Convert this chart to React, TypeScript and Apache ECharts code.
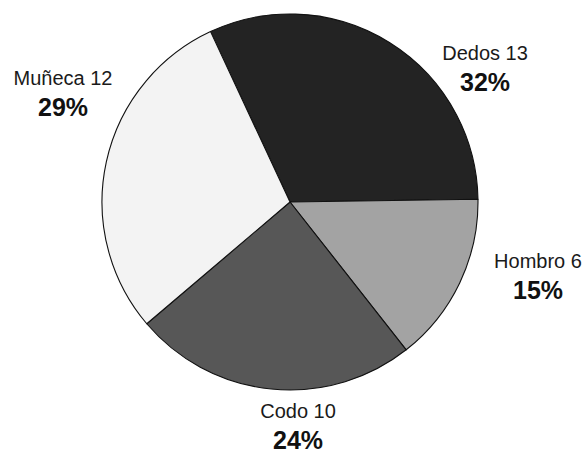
import React, { useEffect, useRef } from "react";
import * as echarts from "echarts";

// Injury locations and their counts
const categories = ["Dedos", "Hombro", "Codo", "Muñeca"];
const counts = [13, 6, 10, 12];
const sliceColors = ["#232323", "#a3a3a3", "#575757", "#f3f3f3"];

// Where each slice's caption block sits (centre of the two-line block)
const labelSpots: [number, number][] = [
  [485, 68],
  [538, 276],
  [298, 426],
  [63, 93],
];

export default function App() {
  const ref = useRef<HTMLDivElement>(null);

  useEffect(() => {
    if (!ref.current) return;
    const chart = echarts.init(ref.current, undefined, { renderer: "svg" });
    chart.setOption({
      animation: false,
      backgroundColor: "#ffffff",
      series: [
        {
          type: "pie",
          center: [290, 202],
          radius: 188,
          startAngle: 115,
          clockwise: true,
          percentPrecision: 0,
          avoidLabelOverlap: false,
          itemStyle: { borderColor: "#111111", borderWidth: 1.1 },
          labelLine: { show: false },
          label: {
            show: true,
            position: "outside",
            formatter: "{n|{b} {c}}\n{p|{d}%}",
            align: "center",
            rich: {
              n: {
                fontFamily: "Liberation Sans, Arial, sans-serif",
                fontSize: 20,
                color: "#1a1a1a",
                lineHeight: 28,
                align: "center",
              },
              p: {
                fontFamily: "Liberation Sans, Arial, sans-serif",
                fontSize: 25,
                fontWeight: "bold",
                color: "#111111",
                lineHeight: 30,
                align: "center",
              },
            },
          },
          labelLayout: (params: any) => {
            const spot = labelSpots[params.dataIndex];
            return {
              x: spot[0],
              y: spot[1],
              align: "center",
              verticalAlign: "middle",
            };
          },
          data: categories.map((name, i) => ({
            name,
            value: counts[i],
            itemStyle: { color: sliceColors[i] },
          })),
        },
      ],
    });
    return () => chart.dispose();
  }, []);

  return (
    <div
      ref={ref}
      style={{ position: "absolute", left: 0, top: 0, width: 585, height: 451 }}
    />
  );
}
